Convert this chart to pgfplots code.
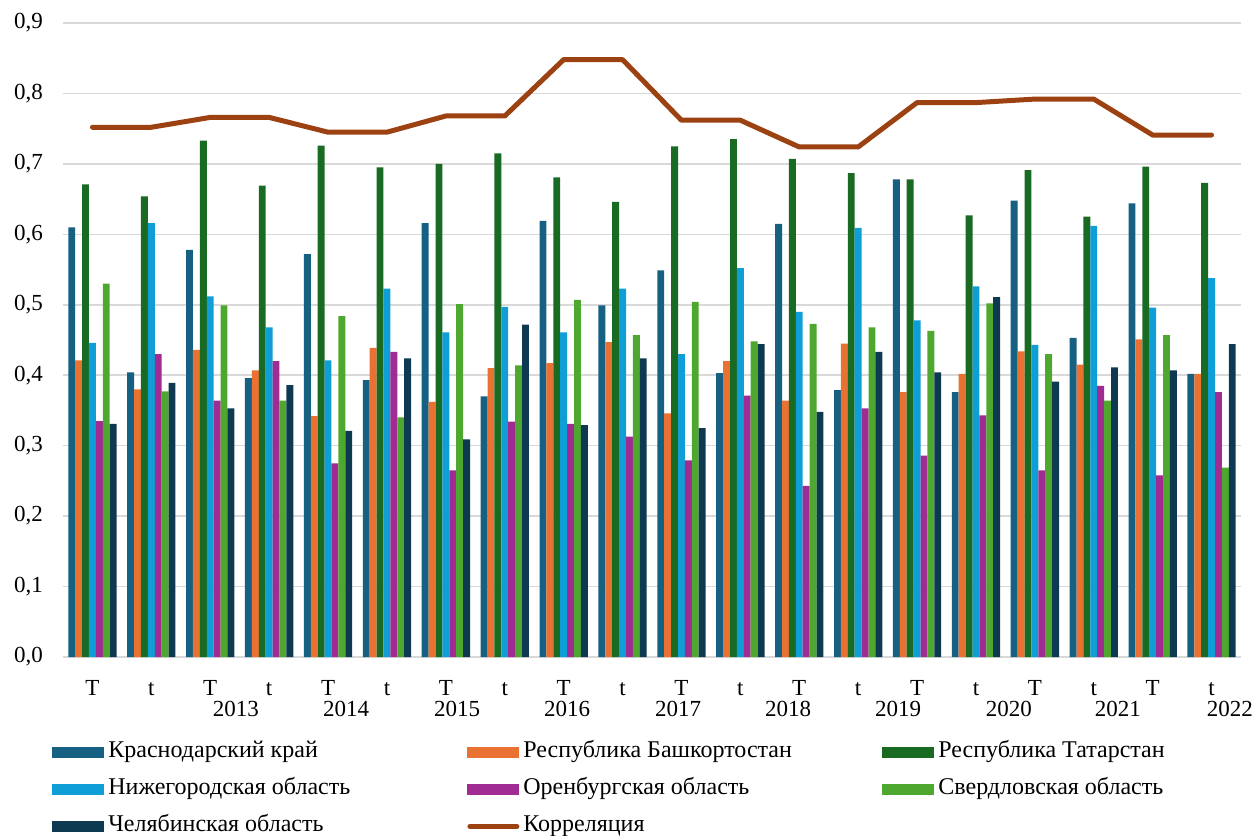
\documentclass[border=0pt]{standalone}
\usepackage{fontspec}
\setmainfont{Liberation Serif}
\usepackage{pgfplots}
\usepackage{pgfplotstable}
\pgfplotsset{compat=1.18}

\definecolor{ckr}{HTML}{166082}
\definecolor{cba}{HTML}{E97132}
\definecolor{cta}{HTML}{196B24}
\definecolor{cni}{HTML}{0F9ED5}
\definecolor{cor}{HTML}{A02B93}
\definecolor{csv}{HTML}{4EA72E}
\definecolor{cch}{HTML}{0E3A51}
\definecolor{ccorr}{HTML}{9C4212}
\definecolor{cgrid}{HTML}{D9D9D9}

\pgfplotsset{
  barlegend/.style={legend image code/.code={\fill[##1] (0pt,-2.75pt) rectangle (26pt,2.75pt);}},
  linelegend/.style={legend image code/.code={\draw[##1] (1.25pt,0pt) -- (24.75pt,0pt);}},
}

% x: category index (T, t alternating); kr..ch: regions; corr: correlation
\pgfplotstableread{
x  kr    ba    ta    ni    or    sv    ch    corr
0  0.610 0.421 0.671 0.446 0.335 0.530 0.331 0.752
1  0.404 0.380 0.654 0.616 0.430 0.377 0.389 0.752
2  0.578 0.436 0.733 0.512 0.364 0.499 0.353 0.766
3  0.396 0.407 0.669 0.468 0.420 0.364 0.386 0.766
4  0.572 0.342 0.726 0.421 0.275 0.484 0.321 0.745
5  0.393 0.439 0.695 0.523 0.433 0.340 0.424 0.745
6  0.616 0.362 0.700 0.461 0.265 0.501 0.309 0.768
7  0.370 0.410 0.715 0.497 0.334 0.414 0.472 0.768
8  0.619 0.417 0.681 0.461 0.331 0.507 0.329 0.848
9  0.499 0.447 0.646 0.523 0.313 0.457 0.424 0.848
10 0.549 0.346 0.725 0.430 0.279 0.504 0.325 0.762
11 0.403 0.420 0.735 0.552 0.371 0.448 0.444 0.762
12 0.615 0.364 0.707 0.490 0.243 0.473 0.348 0.724
13 0.379 0.445 0.687 0.609 0.353 0.468 0.433 0.724
14 0.678 0.376 0.678 0.478 0.286 0.463 0.404 0.787
15 0.376 0.402 0.627 0.526 0.343 0.502 0.511 0.787
16 0.648 0.434 0.691 0.443 0.265 0.430 0.391 0.792
17 0.453 0.415 0.625 0.612 0.385 0.364 0.411 0.792
18 0.644 0.451 0.696 0.496 0.258 0.457 0.407 0.741
19 0.402 0.402 0.673 0.538 0.376 0.269 0.444 0.741
}\datatable

\newcommand{\lw}[1]{\makebox[177.5pt][l]{#1}}

\begin{document}
\begin{tikzpicture}[font=\fontsize{11.5}{13.8}\selectfont,
  year/.style={anchor=base, inner sep=0pt, yshift=-29.5pt}]
\path[use as bounding box] (-31.5pt,-89.5pt) rectangle (596pt,328.5pt);
\begin{axis}[
  scale only axis,
  width=589pt, height=317pt,
  xmin=-0.5, xmax=19.5,
  ymin=0, ymax=0.9,
  ybar=0pt,
  bar width=3.45pt,
  axis line style={draw=none},
  tick style={draw=none},
  ytick={0,0.1,...,0.9},
  ymajorgrids,
  major grid style={cgrid, line width=0.75pt},
  xtick={0,...,19},
  xticklabels={T,t,T,t,T,t,T,t,T,t,T,t,T,t,T,t,T,t,T,t},
  xticklabel style={anchor=base, yshift=-15pt},
  yticklabel style={xshift=-6.5pt},
  /pgf/number format/.cd, fixed, fixed zerofill, precision=1, use comma, assume math mode=true,
  /pgfplots/.cd,
  clip=false,
  legend columns=3,
  legend cell align=left,
  legend style={at={(0,0)}, anchor=north west, xshift=-5.5pt, yshift=-42.5pt,
    font=\fontsize{12}{14.4}\selectfont,
    draw=none, fill=none, inner sep=0pt, column sep=0pt, row sep=8.5pt,
    nodes={inner xsep=2pt, inner ysep=0pt, text height=7.5pt, text depth=2.5pt}},
  barlegend,
]
\addplot[fill=ckr, draw=none] table[x=x, y=kr] {\datatable};
\addlegendentry{\lw{Краснодарский край}}
\addplot[fill=cba, draw=none] table[x=x, y=ba] {\datatable};
\addlegendentry{\lw{Республика Башкортостан}}
\addplot[fill=cta, draw=none] table[x=x, y=ta] {\datatable};
\addlegendentry{\lw{Республика Татарстан}}
\addplot[fill=cni, draw=none] table[x=x, y=ni] {\datatable};
\addlegendentry{\lw{Нижегородская область}}
\addplot[fill=cor, draw=none] table[x=x, y=or] {\datatable};
\addlegendentry{\lw{Оренбургская область}}
\addplot[fill=csv, draw=none] table[x=x, y=sv] {\datatable};
\addlegendentry{\lw{Свердловская область}}
\addplot[fill=cch, draw=none] table[x=x, y=ch] {\datatable};
\addlegendentry{\lw{Челябинская область}}
\addplot[sharp plot, color=ccorr, line width=2.5pt, line cap=round, line join=round,
  linelegend] table[x=x, y=corr] {\datatable};
\addlegendentry{\lw{Корреляция}}

% year labels of the second category row
\node[year] at (axis cs:2.437,0) {2013};
\node[year] at (axis cs:4.305,0) {2014};
\node[year] at (axis cs:6.190,0) {2015};
\node[year] at (axis cs:8.058,0) {2016};
\node[year] at (axis cs:9.943,0) {2017};
\node[year] at (axis cs:11.81,0) {2018};
\node[year] at (axis cs:13.68,0) {2019};
\node[year] at (axis cs:15.56,0) {2020};
\node[year] at (axis cs:17.41,0) {2021};
\node[year] at (axis cs:19.31,0) {2022};
\end{axis}
\end{tikzpicture}
\end{document}
